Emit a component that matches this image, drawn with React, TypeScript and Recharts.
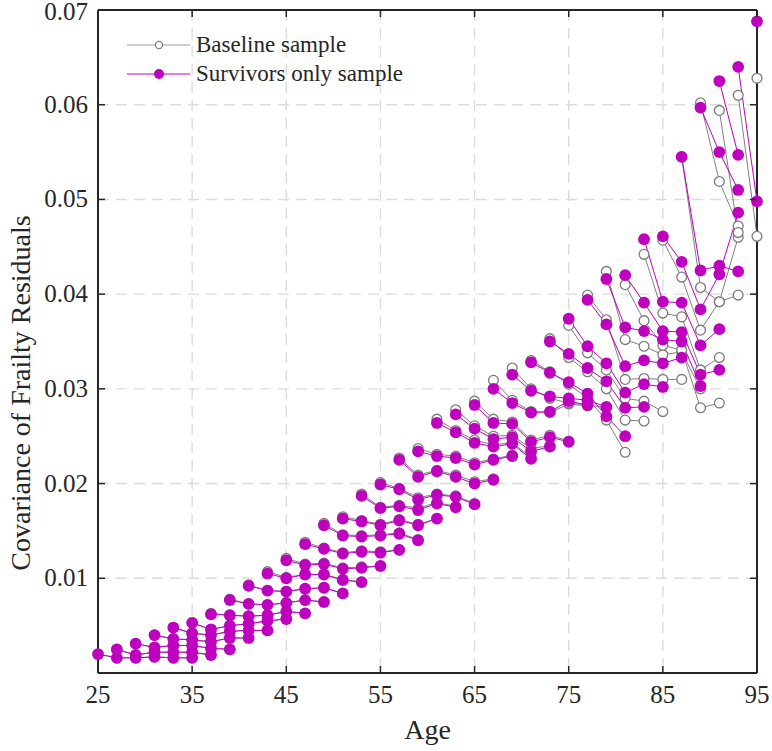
import { LineChart, Line, XAxis, YAxis, CartesianGrid, ReferenceLine } from "recharts"

// first age of each cohort line, points follow every 2 years
const cohortAges = [25, 27, 29, 31, 33, 35, 37, 39, 41, 43, 45, 47, 49, 51, 53, 55, 57, 59, 61, 63, 65, 67, 69, 71, 73, 75, 77, 79, 81, 83, 85, 87, 89, 91, 93, 95]

const survivorsValues: number[][] = [
  [0.0020, 0.0016, 0.0016, 0.0017, 0.0016, 0.0016],
  [0.0025, 0.0019, 0.0022, 0.0022, 0.0022, 0.0019],
  [0.0031, 0.0027, 0.0029, 0.0029, 0.0026, 0.0025],
  [0.0040, 0.0036, 0.0035, 0.0033, 0.0037, 0.0037],
  [0.0048, 0.0042, 0.0040, 0.0044, 0.0045, 0.0045],
  [0.0053, 0.0046, 0.0050, 0.0052, 0.0055, 0.0057],
  [0.0062, 0.0061, 0.0060, 0.0061, 0.0065, 0.0063],
  [0.0077, 0.0073, 0.0072, 0.0074, 0.0077, 0.0075],
  [0.0092, 0.0087, 0.0086, 0.0089, 0.0090, 0.0084],
  [0.0105, 0.0100, 0.0104, 0.0104, 0.0098, 0.0096],
  [0.0119, 0.0114, 0.0115, 0.0110, 0.0111, 0.0113],
  [0.0136, 0.0131, 0.0126, 0.0128, 0.0127, 0.0130],
  [0.0156, 0.0145, 0.0144, 0.0145, 0.0147, 0.0140],
  [0.0163, 0.0160, 0.0156, 0.0161, 0.0156, 0.0163],
  [0.0187, 0.0174, 0.0176, 0.0172, 0.0179, 0.0175],
  [0.0199, 0.0194, 0.0183, 0.0188, 0.0186, 0.0178],
  [0.0225, 0.0207, 0.0213, 0.0207, 0.0200, 0.0204],
  [0.0234, 0.0229, 0.0227, 0.0220, 0.0225, 0.0229],
  [0.0264, 0.0254, 0.0243, 0.0239, 0.0242, 0.0226],
  [0.0273, 0.0258, 0.0247, 0.0249, 0.0234, 0.0239],
  [0.0283, 0.0264, 0.0263, 0.0244, 0.0249, 0.0244],
  [0.0300, 0.0285, 0.0275, 0.0276, 0.0287, 0.0283],
  [0.0315, 0.0298, 0.0292, 0.0290, 0.0288, 0.0281],
  [0.0328, 0.0317, 0.0307, 0.0295, 0.0271, 0.0250],
  [0.0350, 0.0337, 0.0322, 0.0308, 0.0280, 0.0281],
  [0.0374, 0.0345, 0.0327, 0.0296, 0.0305, 0.0302],
  [0.0394, 0.0368, 0.0324, 0.0330, 0.0327, 0.0333],
  [0.0416, 0.0365, 0.0361, 0.0352, 0.0350, 0.0303],
  [0.0420, 0.0391, 0.0361, 0.0360, 0.0315, 0.0320],
  [0.0458, 0.0392, 0.0391, 0.0346, 0.0363],
  [0.0461, 0.0434, 0.0384, 0.0421, 0.0486],
  [0.0545, 0.0425, 0.0430, 0.0424],
  [0.0597, 0.0550, 0.0510],
  [0.0625, 0.0547],
  [0.0640, 0.0498],
  [0.0688],
]

const baselineValues: number[][] = [
  [0.0020, 0.0016, 0.0016, 0.0017, 0.0016, 0.0016],
  [0.0025, 0.0019, 0.0022, 0.0022, 0.0022, 0.0019],
  [0.0031, 0.0027, 0.0029, 0.0029, 0.0026, 0.0025],
  [0.0040, 0.0036, 0.0035, 0.0033, 0.0037, 0.0037],
  [0.0048, 0.0042, 0.0040, 0.0044, 0.0045, 0.0045],
  [0.0053, 0.0046, 0.0050, 0.0052, 0.0055, 0.0057],
  [0.0063, 0.0061, 0.0060, 0.0061, 0.0065, 0.0063],
  [0.0078, 0.0073, 0.0072, 0.0074, 0.0077, 0.0075],
  [0.0093, 0.0087, 0.0086, 0.0089, 0.0090, 0.0084],
  [0.0107, 0.0101, 0.0104, 0.0104, 0.0099, 0.0096],
  [0.0121, 0.0115, 0.0116, 0.0111, 0.0112, 0.0113],
  [0.0138, 0.0132, 0.0127, 0.0129, 0.0128, 0.0130],
  [0.0158, 0.0146, 0.0145, 0.0146, 0.0148, 0.0141],
  [0.0165, 0.0161, 0.0157, 0.0162, 0.0157, 0.0163],
  [0.0189, 0.0175, 0.0177, 0.0174, 0.0180, 0.0176],
  [0.0201, 0.0195, 0.0185, 0.0189, 0.0187, 0.0179],
  [0.0227, 0.0209, 0.0214, 0.0209, 0.0202, 0.0205],
  [0.0237, 0.0231, 0.0229, 0.0222, 0.0226, 0.0230],
  [0.0268, 0.0256, 0.0246, 0.0241, 0.0243, 0.0228],
  [0.0278, 0.0261, 0.0250, 0.0251, 0.0237, 0.0240],
  [0.0287, 0.0268, 0.0265, 0.0246, 0.0251, 0.0245],
  [0.0309, 0.0288, 0.0276, 0.0275, 0.0284, 0.0282],
  [0.0322, 0.0300, 0.0290, 0.0285, 0.0283, 0.0280],
  [0.0330, 0.0318, 0.0305, 0.0290, 0.0267, 0.0233],
  [0.0353, 0.0333, 0.0318, 0.0300, 0.0267, 0.0266],
  [0.0367, 0.0338, 0.0320, 0.0290, 0.0287, 0.0276],
  [0.0399, 0.0373, 0.0310, 0.0311, 0.0310, 0.0310],
  [0.0424, 0.0352, 0.0345, 0.0336, 0.0339, 0.0300],
  [0.0410, 0.0372, 0.0346, 0.0341, 0.0280, 0.0285],
  [0.0442, 0.0380, 0.0376, 0.0320, 0.0333],
  [0.0457, 0.0418, 0.0362, 0.0392, 0.0460],
  [0.0545, 0.0407, 0.0392, 0.0399],
  [0.0602, 0.0519, 0.0472],
  [0.0594, 0.0465],
  [0.0610, 0.0461],
  [0.0628],
]

const xTicks = [25, 35, 45, 55, 65, 75, 85, 95]
const yTicks = [0.01, 0.02, 0.03, 0.04, 0.05, 0.06, 0.07]

const MAGENTA = "#bf00bf"
const GREY = "#808080"
const AXIS = "#262626"
const FONT = "'Liberation Serif', 'Times New Roman', serif"

// plot box in pixels
const LEFT = 98
const RIGHT = 757
const TOP = 10
const BOTTOM = 673

const toPoints = (start: number, values: number[]) =>
  values.map((v, i) => ({ x: start + 2 * i, y: v }))

const baselineLines = cohortAges.map((a, i) => toPoints(a, baselineValues[i]))
const survivorLines = cohortAges.map((a, i) => toPoints(a, survivorsValues[i]))

function XTick(props: any) {
  const { x, payload } = props
  return (
    <g>
      <line x1={x} x2={x} y1={BOTTOM} y2={BOTTOM - 7} stroke={AXIS} strokeWidth={1.5} />
      <line x1={x} x2={x} y1={TOP} y2={TOP + 7} stroke={AXIS} strokeWidth={1.5} />
      <text x={x} y={703} textAnchor="middle" fontFamily={FONT} fontSize={25} fill="#262626">
        {payload.value}
      </text>
    </g>
  )
}

function YTick(props: any) {
  const { y, payload } = props
  // keep the top label inside the page
  const ty = Math.max(y + 8, 20)
  return (
    <g>
      <line x1={LEFT} x2={LEFT + 7} y1={y} y2={y} stroke={AXIS} strokeWidth={1.5} />
      <line x1={RIGHT} x2={RIGHT - 7} y1={y} y2={y} stroke={AXIS} strokeWidth={1.5} />
      <text x={88} y={ty} textAnchor="end" fontFamily={FONT} fontSize={25} fill="#262626">
        {payload.value.toFixed(2)}
      </text>
    </g>
  )
}

function LegendBox() {
  return (
    <div style={{ position: "absolute", left: 120, top: 30, fontFamily: FONT, fontSize: 23, color: "#262626" }}>
      <div style={{ display: "flex", alignItems: "center", height: 29 }}>
        <svg width={76} height={20}>
          <line x1={7} x2={70} y1={10} y2={10} stroke="#a0a0a0" strokeWidth={1.2} />
          <circle cx={39} cy={10} r={3.6} fill="#fff" stroke={GREY} strokeWidth={1.2} />
        </svg>
        <span>Baseline sample</span>
      </div>
      <div style={{ display: "flex", alignItems: "center", height: 29 }}>
        <svg width={76} height={20}>
          <line x1={7} x2={70} y1={10} y2={10} stroke={MAGENTA} strokeWidth={1} />
          <circle cx={39} cy={10} r={5} fill={MAGENTA} />
        </svg>
        <span>Survivors only sample</span>
      </div>
    </div>
  )
}

export default function App() {
  return (
    <div style={{ position: "absolute", left: 0, top: 0, width: 772, height: 751, background: "#fff" }}>
      <LineChart width={772} height={751} margin={{ top: TOP, right: 772 - RIGHT, bottom: 0, left: 0 }}>
        <CartesianGrid stroke="#dcdcdc" strokeDasharray="11 7" strokeWidth={1.4} />
        <XAxis
          dataKey="x"
          type="number"
          domain={[25, 95]}
          ticks={xTicks}
          height={751 - BOTTOM}
          axisLine={{ stroke: AXIS, strokeWidth: 2 }}
          tickLine={false}
          tick={<XTick />}
          label={{
            content: () => (
              <text x={(LEFT + RIGHT) / 2} y={739} textAnchor="middle" fontFamily={FONT} fontSize={28} fill="#262626">
                Age
              </text>
            ),
          }}
        />
        <YAxis
          type="number"
          domain={[0, 0.07]}
          ticks={yTicks}
          width={LEFT}
          axisLine={{ stroke: AXIS, strokeWidth: 2 }}
          tickLine={false}
          tick={<YTick />}
          label={{
            content: () => (
              <text
                x={0}
                y={0}
                transform="translate(30, 393) rotate(-90)"
                textAnchor="middle"
                fontFamily={FONT}
                fontSize={28}
                fill="#262626"
              >
                Covariance of Frailty Residuals
              </text>
            ),
          }}
        />
        <ReferenceLine y={0.07} stroke={AXIS} strokeWidth={2} />
        <ReferenceLine x={95} stroke={AXIS} strokeWidth={2} />
        {baselineLines.map((pts, i) => (
          <Line
            key={`base-${i}`}
            data={pts}
            dataKey="y"
            stroke={GREY}
            strokeWidth={1}
            dot={{ r: 4.9, fill: "#fff", stroke: "#7a7a7a", strokeWidth: 1.3 }}
            activeDot={false}
            legendType="none"
            isAnimationActive={false}
          />
        ))}
        {survivorLines.map((pts, i) => (
          <Line
            key={`surv-${i}`}
            data={pts}
            dataKey="y"
            stroke={MAGENTA}
            strokeWidth={1}
            dot={{ r: 5.9, fill: MAGENTA, stroke: MAGENTA, strokeWidth: 0 }}
            activeDot={false}
            legendType="none"
            isAnimationActive={false}
          />
        ))}
      </LineChart>
      <LegendBox />
    </div>
  )
}
